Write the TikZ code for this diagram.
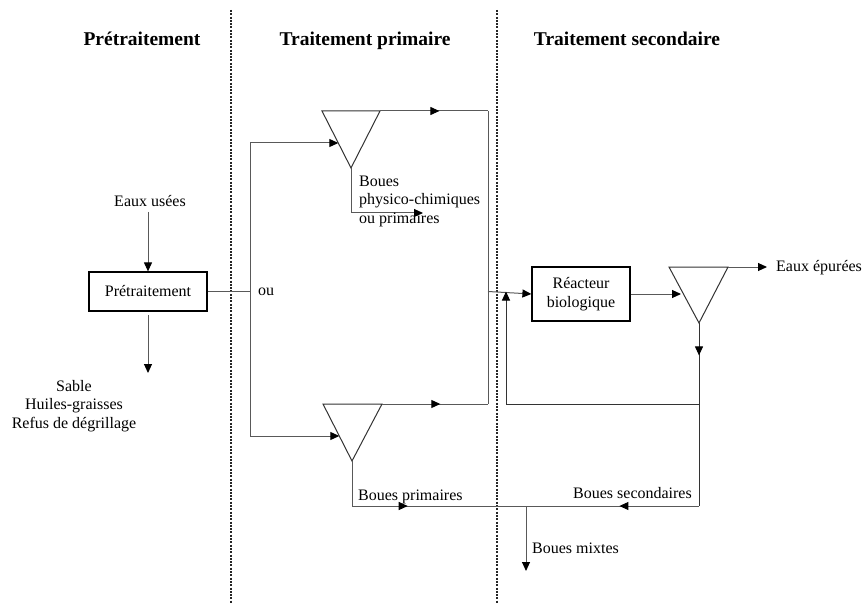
\documentclass[tikz,border=0pt]{standalone}
\usepackage{fontspec}
\setmainfont{Liberation Serif}
\usetikzlibrary{arrows.meta,decorations.markings}
\begin{document}
\begin{tikzpicture}[x=1pt,y=-1pt,
  ln/.style={draw=black!65,line width=1pt},
  arr/.style={ln,-{Triangle[length=9pt,width=8pt,color=black]}},
  midarr/.style={ln,postaction={decorate},decoration={markings,mark=at position #1 with {\arrow{Triangle[length=9pt,width=8pt,color=black]}}}},
  tri/.style={draw=black!80,line width=1pt},
  boxnode/.style={draw=black,line width=1.2pt,align=center,font=\fontsize{16}{19}\selectfont},
  txt/.style={font=\fontsize{16}{19}\selectfont,inner sep=0pt},
  ttl/.style={font=\bfseries\fontsize{19.5}{23}\selectfont,inner sep=0pt,anchor=base},
  sep/.style={draw=black!85,line width=1.1pt,dash pattern=on 2pt off 1.3pt}]
\useasboundingbox (0,0) rectangle (862,604);
% separators
\coordinate (s1t) at (231,10); \coordinate (s1b) at (231,604);
\coordinate (s2t) at (497,10); \coordinate (s2b) at (497,604);
\draw[sep] (s1t) -- (s1b);
\draw[sep] (s2t) -- (s2b);
% titles
\node[ttl] (T1) at (142,46) {Prétraitement};
\node[ttl] (T2) at (365,46) {Traitement primaire};
\node[ttl] (T3) at (627,46) {Traitement secondaire};
% pretreatment
\node[txt,anchor=base] (eaux) at (150,207) {Eaux usées};
\node[boxnode,minimum width=118pt,minimum height=39pt] (pre) at (148,291.5) {Prétraitement};
\node[txt,align=center,font=\fontsize{16}{18.5}\selectfont] (sable) at (74,406) {Sable\\Huiles-graisses\\Refus de dégrillage};
\coordinate (eauxend) at (148,212);
\coordinate (prebot) at (148,315);
\coordinate (sabtop) at (148,373);
\draw[arr] (eauxend) -- (pre.north);
\draw[arr] (prebot) -- (sabtop);
% split
\coordinate (split) at (250,291.5);
\coordinate (splitT) at (250,143);
\coordinate (splitB) at (250,436);
\node[txt,anchor=base west] (ou) at (258,295) {ou};
\draw[ln] (pre.east) -- (split);
\draw[ln] (splitT) -- (splitB);
% triangle 1
\coordinate (t1l) at (322,111); \coordinate (t1r) at (380,111); \coordinate (t1a) at (351,168);
\coordinate (t1in) at (338.3,143);
\draw[tri] (t1l) -- (t1r) -- (t1a) -- cycle;
\draw[arr] (splitT) -- (t1in);
% triangle 2
\coordinate (t2l) at (323,404); \coordinate (t2r) at (382,404); \coordinate (t2a) at (352,461);
\coordinate (t2in) at (339.3,436);
\draw[tri] (t2l) -- (t2r) -- (t2a) -- cycle;
\draw[arr] (splitB) -- (t2in);
% collector
\coordinate (c1) at (488,111); \coordinate (c2) at (488,404); \coordinate (jn) at (488,291.5);
\draw[midarr=0.55] (t1r) -- (c1);
\draw[ln] (c1) -- (c2);
\draw[midarr=0.55] (t2r) -- (c2);
% sludge 1
\coordinate (s1) at (351,213); \coordinate (s1e) at (423,213);
\draw[arr] (t1a) -- (s1) -- (s1e);
\node[txt,anchor=base west] (bpc) at (359,187) {Boues};
\node[txt,anchor=base west] (bpc2) at (359,205) {physico-chimiques};
\node[txt,anchor=base west] (bpc3) at (359,223) {ou primaires};
% reactor
\node[boxnode,minimum width=98pt,minimum height=54pt] (reac) at (581,294) {Réacteur\\biologique};
\draw[arr] (jn) -- (reac.west);
% triangle 3
\coordinate (t3l) at (669,267); \coordinate (t3r) at (728,267); \coordinate (t3a) at (699,323);
\coordinate (t3in) at (681,294);
\draw[tri] (t3l) -- (t3r) -- (t3a) -- cycle;
\draw[arr] (reac.east) -- (t3in);
\coordinate (outE) at (767,267);
\draw[arr] (t3r) -- (outE);
\node[txt,anchor=base west] (epur) at (776,271) {Eaux épurées};
% secondary sludge and recirculation
\coordinate (rec) at (699,404); \coordinate (recl) at (506,404); \coordinate (recu) at (506,291.5);
\coordinate (bs) at (699,506); \coordinate (mix) at (526,506); \coordinate (mixe) at (526,571);
\coordinate (bp) at (352,506);
\draw[midarr=0.4,draw=black!80] (t3a) -- (rec);
\draw[ln,draw=black!80] (rec) -- (bs);
\draw[arr,draw=black!80] (rec) -- (recl) -- (recu);
\draw[midarr=0.46] (bs) -- (mix);
\draw[midarr=0.46] (t2a) -- (bp) -- (mix);
\draw[arr] (mix) -- (mixe);
\node[txt,anchor=base west] (bprim) at (358,500) {Boues primaires};
\node[txt,anchor=base east] (bsec) at (692,498) {Boues secondaires};
\node[txt,anchor=base west] (bmix) at (532,553) {Boues mixtes};
\end{tikzpicture}
\end{document}
